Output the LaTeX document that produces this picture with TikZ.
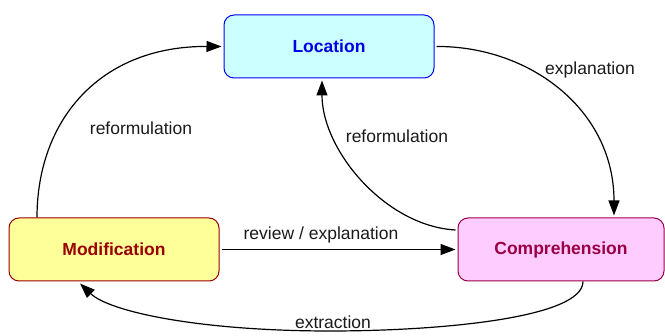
\documentclass[tikz,border=0pt]{standalone}
\usepackage{fontspec}
\setmainfont{Liberation Sans}
\usetikzlibrary{arrows.meta}
\definecolor{locfill}{HTML}{CCFFFF}
\definecolor{locline}{HTML}{0000FF}
\definecolor{loctext}{HTML}{0000E6}
\definecolor{modfill}{HTML}{FFFF99}
\definecolor{modline}{HTML}{990000}
\definecolor{comfill}{HTML}{FFCCFF}
\definecolor{comline}{HTML}{990044}
\definecolor{lbl}{HTML}{1A1A1A}
\begin{document}
\begin{tikzpicture}[x=1pt,y=-1pt,
  state/.style={draw, line width=1pt, rounded corners=10pt, minimum width=210pt, minimum height=63pt, inner sep=0pt, font=\fontsize{17.5}{20}\selectfont\bfseries},
  conn/.style={line width=1.2pt, -{Triangle[length=15pt,width=11pt]}},
  lab/.style={font=\fontsize{17.5}{20}\selectfont, text=lbl, inner sep=1pt},
  masked/.style={fill=white}]
\useasboundingbox (0,0) rectangle (665,336);
\node[state, fill=locfill, draw=locline, text=loctext] (loc) at (329,46.5) {Location};
\node[state, fill=modfill, draw=modline, text=modline] (mod) at (114,249.5) {Modification};
\node[state, fill=comfill, draw=comline, text=comline, minimum width=206pt] (com) at (561,249.5) {Comprehension};
% reformulation (left)
\draw[conn] ([xshift=-77pt]mod.north) .. controls (37,120) and (100,46) .. ([xshift=-2pt]loc.west);
\node[lab] (l1) at (141,128) {reformulation};
% explanation
\draw[conn] ([xshift=2pt]loc.east) .. controls (530,46) and (614,110) .. ([xshift=53pt,yshift=2pt]com.north);
\node[lab] (l2) at (590,70) {explanation};
% reformulation (middle)
\draw[conn] ([xshift=-2pt,yshift=19.5pt]com.west) .. controls (385,226) and (322,150) .. ([xshift=-7pt,yshift=-2pt]loc.south);
\node[lab] (l3) at (397,136) {reformulation};
% review / explanation
\draw[conn] ([xshift=2pt]mod.east) -- ([xshift=-2pt]com.west);
\node[lab] (l4) at (321,235) {review / explanation};
% extraction
\coordinate (ex) at (330,331);
\draw[conn] ([xshift=22pt]com.south) .. controls (583,318) and (440,331) .. (ex) .. controls (200,331) and (110,312) .. ([xshift=-34pt,yshift=-2pt]mod.south);
\node[lab, masked] (l5) at (333,322) {extraction};
\end{tikzpicture}
\end{document}
